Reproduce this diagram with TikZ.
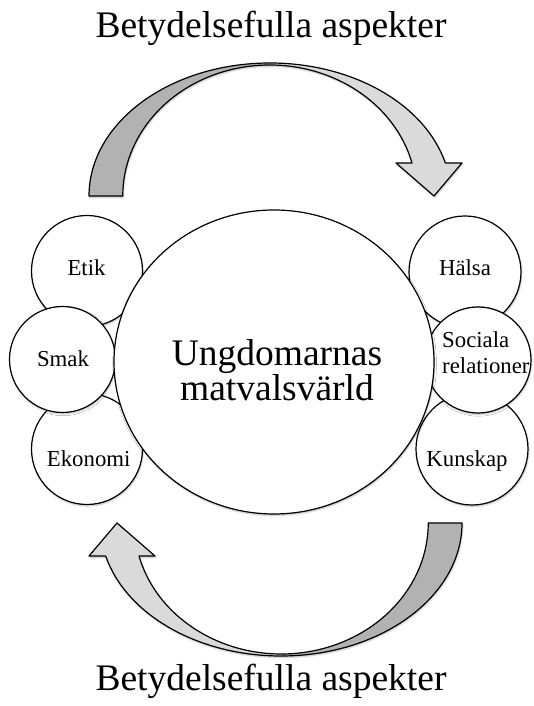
\documentclass[tikz,border=0pt]{standalone}
\usepackage{fontspec}
\setmainfont{Liberation Serif}
\usetikzlibrary{shapes.geometric,shadows.blur}
\definecolor{arrowdark}{HTML}{B2B2B2}
\definecolor{arrowlight}{HTML}{DADADA}
\tikzset{
  softshadow/.style={blur shadow={shadow xshift=0.6pt, shadow yshift=-1.4pt, shadow blur radius=1.8pt, shadow opacity=28}},
  bubble/.style={circle, draw=black, line width=1.2pt, fill=white, inner sep=0pt, softshadow},
  smalltext/.style={font=\fontsize{22.8}{26}\selectfont, inner sep=0pt, anchor=base},
  bigtext/.style={font=\fontsize{37.5}{32}\selectfont, inner sep=0pt, anchor=base},
  arrowline/.style={draw=black, line width=1.2pt, line join=round},
}
\newcommand{\circarrow}{%
  \fill[arrowdark, softshadow] (89,510) arc[start angle=180,end angle=14.4,x radius=181,y radius=133] -- (462,543) -- (434,510) -- (396,543) -- (412,543) arc[start angle=14.6,end angle=180,x radius=147,y radius=131] -- cycle;
  \begin{scope}
    \clip (269,470) rectangle (490,670);
    \fill[arrowlight] (89,510) arc[start angle=180,end angle=14.4,x radius=181,y radius=133] -- (462,543) -- (434,510) -- (396,543) -- (412,543) arc[start angle=14.6,end angle=180,x radius=147,y radius=131] -- cycle;
  \end{scope}
  \path[arrowline] (89,510) arc[start angle=180,end angle=14.4,x radius=181,y radius=133] -- (462,543) -- (434,510) -- (396,543) -- (412,543) arc[start angle=14.6,end angle=180,x radius=147,y radius=131] -- cycle;
}
\begin{document}
\begin{tikzpicture}[x=1pt,y=1pt]
\useasboundingbox (0,0) rectangle (534,706);
% titles
\node[bigtext] (titletop) at (271,668) {Betydelsefulla aspekter};
\node[bigtext] (titlebottom) at (271,15.3) {Betydelsefulla aspekter};
% arrows
\begin{scope}
  \circarrow
\end{scope}
\begin{scope}[rotate around={180:(275.5,346.5)}]
  \circarrow
\end{scope}
% small circles
\node[bubble, minimum size=111pt] (etik) at (87,435) {};
\node[bubble, minimum size=111pt] (ekonomi) at (87,257) {};
\node[bubble, minimum size=106pt] (smak) at (62.5,346.5) {};
\node[bubble, minimum size=112pt] (halsa) at (465,434) {};
\node[bubble, minimum size=112pt] (kunskap) at (472,257) {};
\node[bubble, minimum size=106pt] (sociala) at (478,346) {};
% central ellipse
\node[ellipse, draw=black, line width=1.2pt, fill=white, inner sep=0pt, softshadow,
      minimum width=320pt, minimum height=304pt] (world) at (274,344) {};
% texts
\node[font=\fontsize{37.5}{32}\selectfont, inner sep=0pt, align=center, anchor=north] (worldtext) at (277,366.6) {Ungdomarnas\\matvalsvärld};
\node[smalltext] (t-etik) at (86.5,430) {Etik};
\node[smalltext] (t-smak) at (63,339.3) {Smak};
\node[smalltext] (t-ekonomi) at (88.7,239.3) {Ekonomi};
\node[smalltext] (t-halsa) at (465,430) {Hälsa};
\node[smalltext, align=left, anchor=north west] (t-sociala) at (442,375) {Sociala\\relationer};
\node[smalltext] (t-kunskap) at (467,239.3) {Kunskap};
\end{tikzpicture}
\end{document}
